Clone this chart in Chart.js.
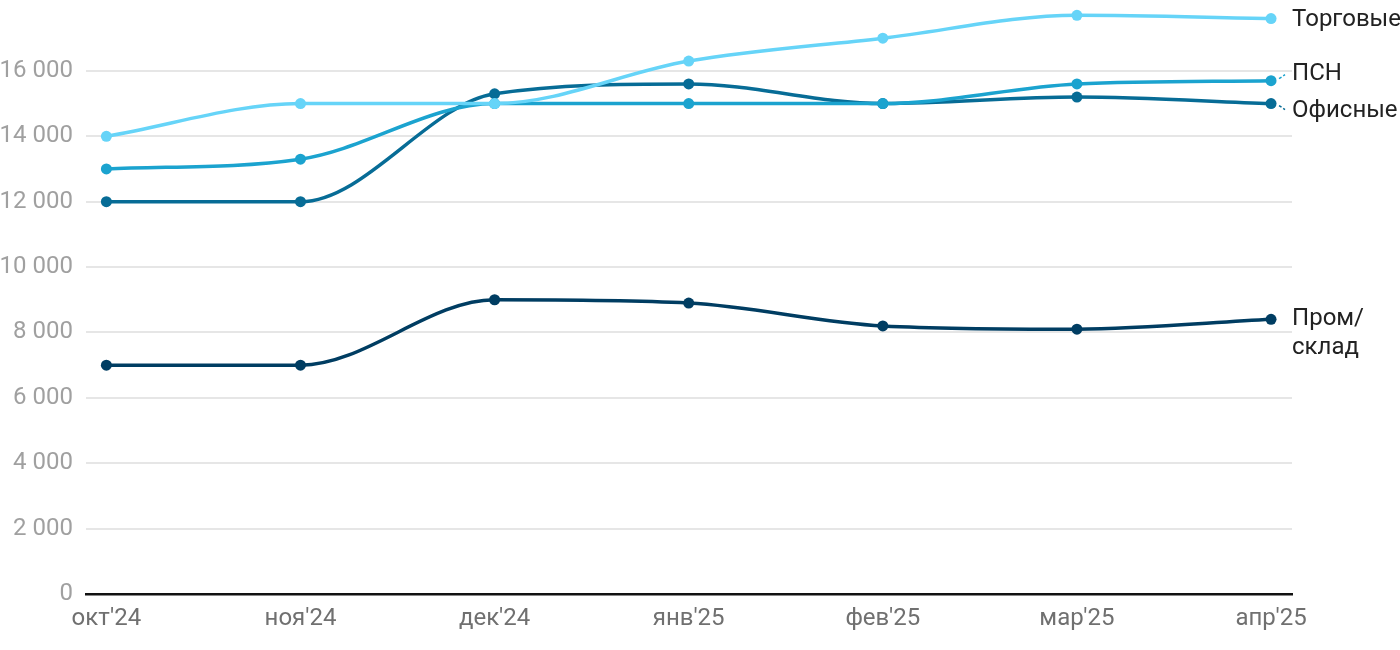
<!DOCTYPE html>
<html lang="ru">
<head>
    <meta charset="UTF-8" />
    <title>Ставки аренды</title>
    <script src="https://cdn.jsdelivr.net/npm/chart.js"></script>
    <style>
        html, body { margin: 0; padding: 0; background: #fff; }
        #wrap { width: 1400px; height: 650px; }
    </style>
</head>
<body>
    <div id="wrap"><canvas id="grafico"></canvas></div>
    <script>
        const meses = ["окт'24", "ноя'24", "дек'24", "янв'25", "фев'25", "мар'25", "апр'25"];
        const torgovye = [14000, 15000, 15000, 16300, 17000, 17700, 17600];
        const psn = [13000, 13300, 15000, 15000, 15000, 15600, 15700];
        const ofisnye = [12000, 12000, 15300, 15600, 15000, 15200, 15000];
        const promSklad = [7000, 7000, 9000, 8900, 8200, 8100, 8400];
        const yTicks = [0, 2000, 4000, 6000, 8000, 10000, 12000, 14000, 16000];

        const series = [
            { nombre: ['Торговые'], datos: torgovye, color: '#66d4f8', dy: 1, conector: 0 },
            { nombre: ['ПСН'], datos: psn, color: '#1ba3cf', dy: -7, conector: -1 },
            { nombre: ['Офисные'], datos: ofisnye, color: '#076c96', dy: 7, conector: 1 },
            { nombre: ['Пром/', 'склад'], datos: promSklad, color: '#003d62', dy: 0, conector: 0 }
        ];

        // etiquetas a la derecha de cada línea
        const etiquetasDerecha = {
            id: 'etiquetasDerecha',
            afterDatasetsDraw(chart) {
                const ctx = chart.ctx;
                ctx.save();
                ctx.font = '24px Roboto, sans-serif';
                ctx.textBaseline = 'middle';
                ctx.fillStyle = '#222';
                series.forEach((s, i) => {
                    const meta = chart.getDatasetMeta(i);
                    const p = meta.data[meta.data.length - 1];
                    const x = p.x + 21;
                    const y = p.y + s.dy;
                    s.nombre.forEach((linea, j) => ctx.fillText(linea, x, y + j * 29));
                    if (s.conector !== 0) {
                        ctx.strokeStyle = s.color;
                        ctx.lineWidth = 1.5;
                        ctx.setLineDash([3, 2]);
                        ctx.beginPath();
                        ctx.moveTo(p.x + 8, p.y + 2 * s.conector);
                        ctx.lineTo(p.x + 14, p.y + 6 * s.conector);
                        ctx.stroke();
                        ctx.setLineDash([]);
                    }
                });
                ctx.restore();
            }
        };

        new Chart(document.getElementById('grafico'), {
            type: 'line',
            data: {
                datasets: series.map(s => ({
                    label: s.nombre.join(' '),
                    data: s.datos.map((v, i) => ({ x: i, y: v })),
                    borderColor: s.color,
                    backgroundColor: s.color,
                    borderWidth: 3.5,
                    pointRadius: 5.5,
                    pointBorderWidth: 0,
                    cubicInterpolationMode: 'monotone'
                }))
            },
            options: {
                responsive: true,
                maintainAspectRatio: false,
                animation: false,
                layout: { padding: { left: 0, right: 108, top: 0, bottom: 0 } },
                plugins: { legend: { display: false }, tooltip: { enabled: false } },
                scales: {
                    x: {
                        type: 'linear',
                        min: -0.105,
                        max: 6.108,
                        afterBuildTicks: (s) => { s.ticks = meses.map((_, i) => ({ value: i })); },
                        afterFit: (s) => { s.height = 56; s.paddingLeft = 0; s.paddingRight = 0; },
                        ticks: {
                            callback: (v) => meses[v],
                            color: '#707070',
                            font: { family: 'Roboto', size: 24 },
                            padding: 11,
                            maxRotation: 0,
                            autoSkip: false
                        },
                        grid: { display: false, drawTicks: false },
                        border: { display: true, color: '#111', width: 2.5 }
                    },
                    y: {
                        min: 0,
                        max: 18000,
                        afterBuildTicks: (s) => { s.ticks = yTicks.map(v => ({ value: v })); },
                        afterFit: (s) => { s.width = 86; s.paddingTop = 0; s.paddingBottom = 0; },
                        ticks: {
                            callback: (v) => v.toLocaleString('ru-RU').replace(/\s/g, ' '),
                            color: '#a0a0a0',
                            font: { family: 'Roboto', size: 24 },
                            padding: 13
                        },
                        grid: { color: '#e6e6e6', lineWidth: 2, drawTicks: false },
                        border: { display: false }
                    }
                }
            },
            plugins: [etiquetasDerecha]
        });
    </script>
</body>
</html>
